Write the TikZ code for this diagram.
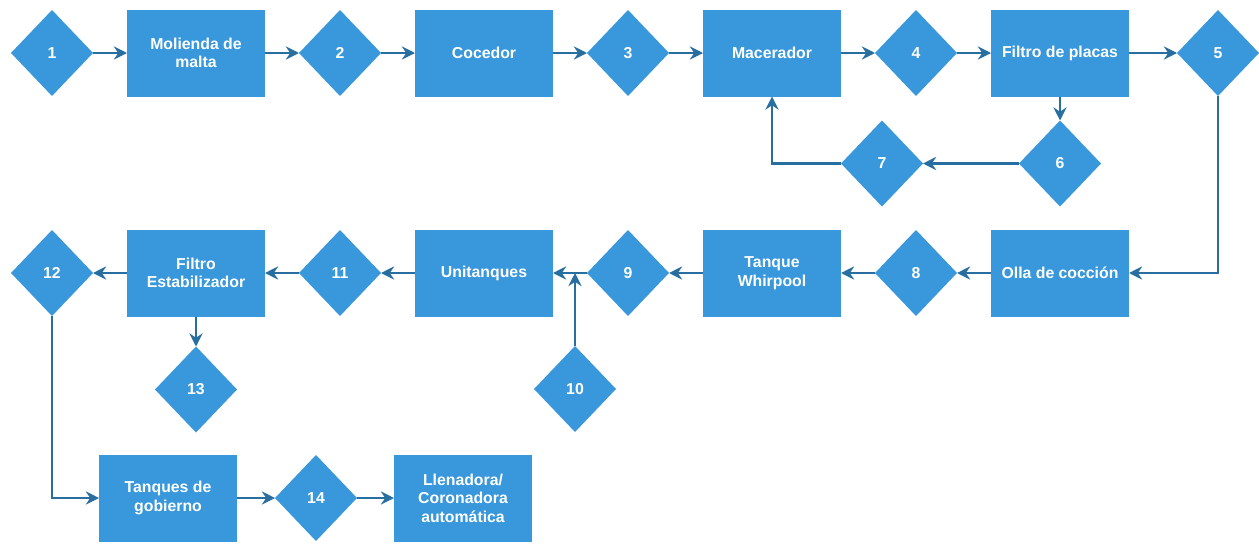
\documentclass[tikz,border=0pt]{standalone}
\usepackage{fontspec}
\setmainfont{Liberation Sans}
\usepackage{xcolor}
\usepackage{tikz}
\usetikzlibrary{shapes.geometric,arrows.meta,positioning,calc}
\definecolor{boxblue}{RGB}{56, 152, 219}
\definecolor{linkblue}{RGB}{40, 110, 160}

\begin{document}
\begin{tikzpicture}[
    >={Stealth[length=7.5pt,width=7.5pt,inset=2.5pt]},
    node distance=0.68cm,
    proc/.style={fill=boxblue, draw=none, align=center, text=white, font=\fontsize{9}{10.5}\selectfont\bfseries, minimum height=1.74cm, minimum width=2.76cm, inner sep=1pt, outer sep=0pt},
    point/.style={diamond, aspect=1, fill=boxblue, draw=none, text=white, font=\fontsize{9}{10.5}\selectfont\bfseries, minimum width=1.64cm, minimum height=1.72cm, inner sep=0pt, outer sep=0pt},
    arrow/.style={->, line width=1.2pt, linkblue}
]
    \useasboundingbox (0,0) rectangle (25.18,-10.88);

    % Row 1
    \node[point] (p1) at (1.04,-1.06) {1};
    \node[proc, right=of p1] (molienda) {Molienda de\\malta};
    \node[point, right=of molienda] (p2) {2};
    \node[proc, right=of p2] (cocedor) {Cocedor};
    \node[point, right=of cocedor] (p3) {3};
    \node[proc, right=of p3] (macerador) {Macerador};
    \node[point, right=of macerador] (p4) {4};
    \node[proc, right=of p4] (placas) {Filtro de placas};
    \node[point, right=0.96cm of placas] (p5) {5};

    % Row 2 (recirculation)
    \node[point, below=0.48cm of placas] (p6) {6};
    \node[point, left=1.92cm of p6] (p7) {7};

    % Row 3
    \node[proc, below=2.66cm of placas] (olla) {Olla de cocción};
    \node[point, left=of olla] (p8) {8};
    \node[proc, left=of p8] (whirpool) {Tanque\\Whirpool};
    \node[point, left=of whirpool] (p9) {9};
    \node[proc, left=of p9] (unit) {Unitanques};
    \node[point, left=of unit] (p11) {11};
    \node[proc, left=of p11] (estab) {Filtro\\Estabilizador};
    \node[point, left=of estab] (p12) {12};
    \node[point, below=0.6cm of estab] (p13) {13};
    \node[point] (p10) at (11.5,-7.78) {10};
    \coordinate (join) at (p10 |- unit.east);

    % Row 4
    \node[proc] (gobierno) at (3.36,-9.96) {Tanques de\\gobierno};
    \node[point, right=0.76cm of gobierno] (p14) {14};
    \node[proc, right=0.74cm of p14] (llenadora) {Llenadora/\\Coronadora\\automática};

    % Main line
    \draw[arrow] (p1) -- (molienda);
    \draw[arrow] (molienda) -- (p2);
    \draw[arrow] (p2) -- (cocedor);
    \draw[arrow] (cocedor) -- (p3);
    \draw[arrow] (p3) -- (macerador);
    \draw[arrow] (macerador) -- (p4);
    \draw[arrow] (p4) -- (placas);
    \draw[arrow] (placas) -- (p5);
    \draw[arrow] (p5.south) |- (olla.east);

    % Recirculation
    \draw[arrow] (placas.south) -- (p6.north);
    \draw[arrow] (p6.west) -- (p7.east);
    \draw[arrow] (p7.west) -| (macerador.south);

    % Return line
    \draw[arrow] (olla) -- (p8);
    \draw[arrow] (p8) -- (whirpool);
    \draw[arrow] (whirpool) -- (p9);
    \draw[arrow] (p9) -- (unit);
    \draw[arrow] (p10.north) -- (join);
    \draw[arrow] (unit) -- (p11);
    \draw[arrow] (p11) -- (estab);
    \draw[arrow] (estab) -- (p12);
    \draw[arrow] (estab.south) -- (p13.north);

    % Packaging
    \draw[arrow] (p12.south) |- (gobierno.west);
    \draw[arrow] (gobierno) -- (p14);
    \draw[arrow] (p14) -- (llenadora);

\end{tikzpicture}
\end{document}
